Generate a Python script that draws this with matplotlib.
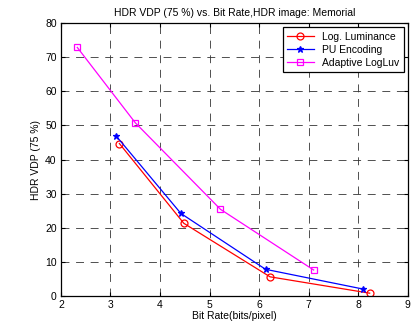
import matplotlib
matplotlib.use('Agg')
import matplotlib.pyplot as plt

plt.rcParams['font.family'] = ['Liberation Sans', 'DejaVu Sans']

# data
rate_log = [3.18, 4.48, 6.22, 8.23]
vdp_log = [44.7, 21.3, 5.6, 0.8]
rate_pu = [3.11, 4.42, 6.13, 8.10]
vdp_pu = [47.0, 24.2, 7.8, 2.0]
rate_luv = [2.33, 3.50, 5.22, 7.10]
vdp_luv = [72.9, 50.8, 25.4, 7.6]

fig = plt.figure(figsize=(4.2, 3.31), dpi=100)
ax = fig.add_axes([0.145, 0.106, 0.826, 0.824])

ax.plot(rate_log, vdp_log, color='red', lw=0.9, marker='o', ms=5,
        mfc='none', mew=0.9, label='Log. Luminance')
ax.plot(rate_pu, vdp_pu, color='blue', lw=0.9, marker='*', ms=5,
        mew=0.9, label='PU Encoding')
ax.plot(rate_luv, vdp_luv, color='magenta', lw=0.9, marker='s', ms=5,
        mfc='none', mew=0.9, label='Adaptive LogLuv')

ax.set_xlim(2, 9)
ax.set_ylim(0, 80)
ax.set_xticks(range(2, 10))
ax.set_yticks(range(0, 81, 10))
ax.grid(True, color='#333333', linestyle=(0, (9.5, 8)), linewidth=0.6)
ax.tick_params(direction='in', top=True, right=True, labelsize=7.5, length=3, pad=3)
for s in ax.spines.values():
    s.set_linewidth(0.9)

ax.set_title('HDR VDP (75 %) vs. Bit Rate,HDR image: Memorial', fontsize=7.5, pad=5)
ax.set_xlabel('Bit Rate(bits/pixel)', fontsize=7.5, labelpad=1)
ax.set_ylabel('HDR VDP (75 %)', fontsize=7.5, labelpad=3)

leg = ax.legend(loc='upper right', fontsize=7.5, fancybox=False, framealpha=1,
                edgecolor='black', borderaxespad=0.4, handlelength=2.6,
                labelspacing=0.3, borderpad=0.4)
leg.get_frame().set_linewidth(0.9)

fig.savefig('out.png', dpi=100)
